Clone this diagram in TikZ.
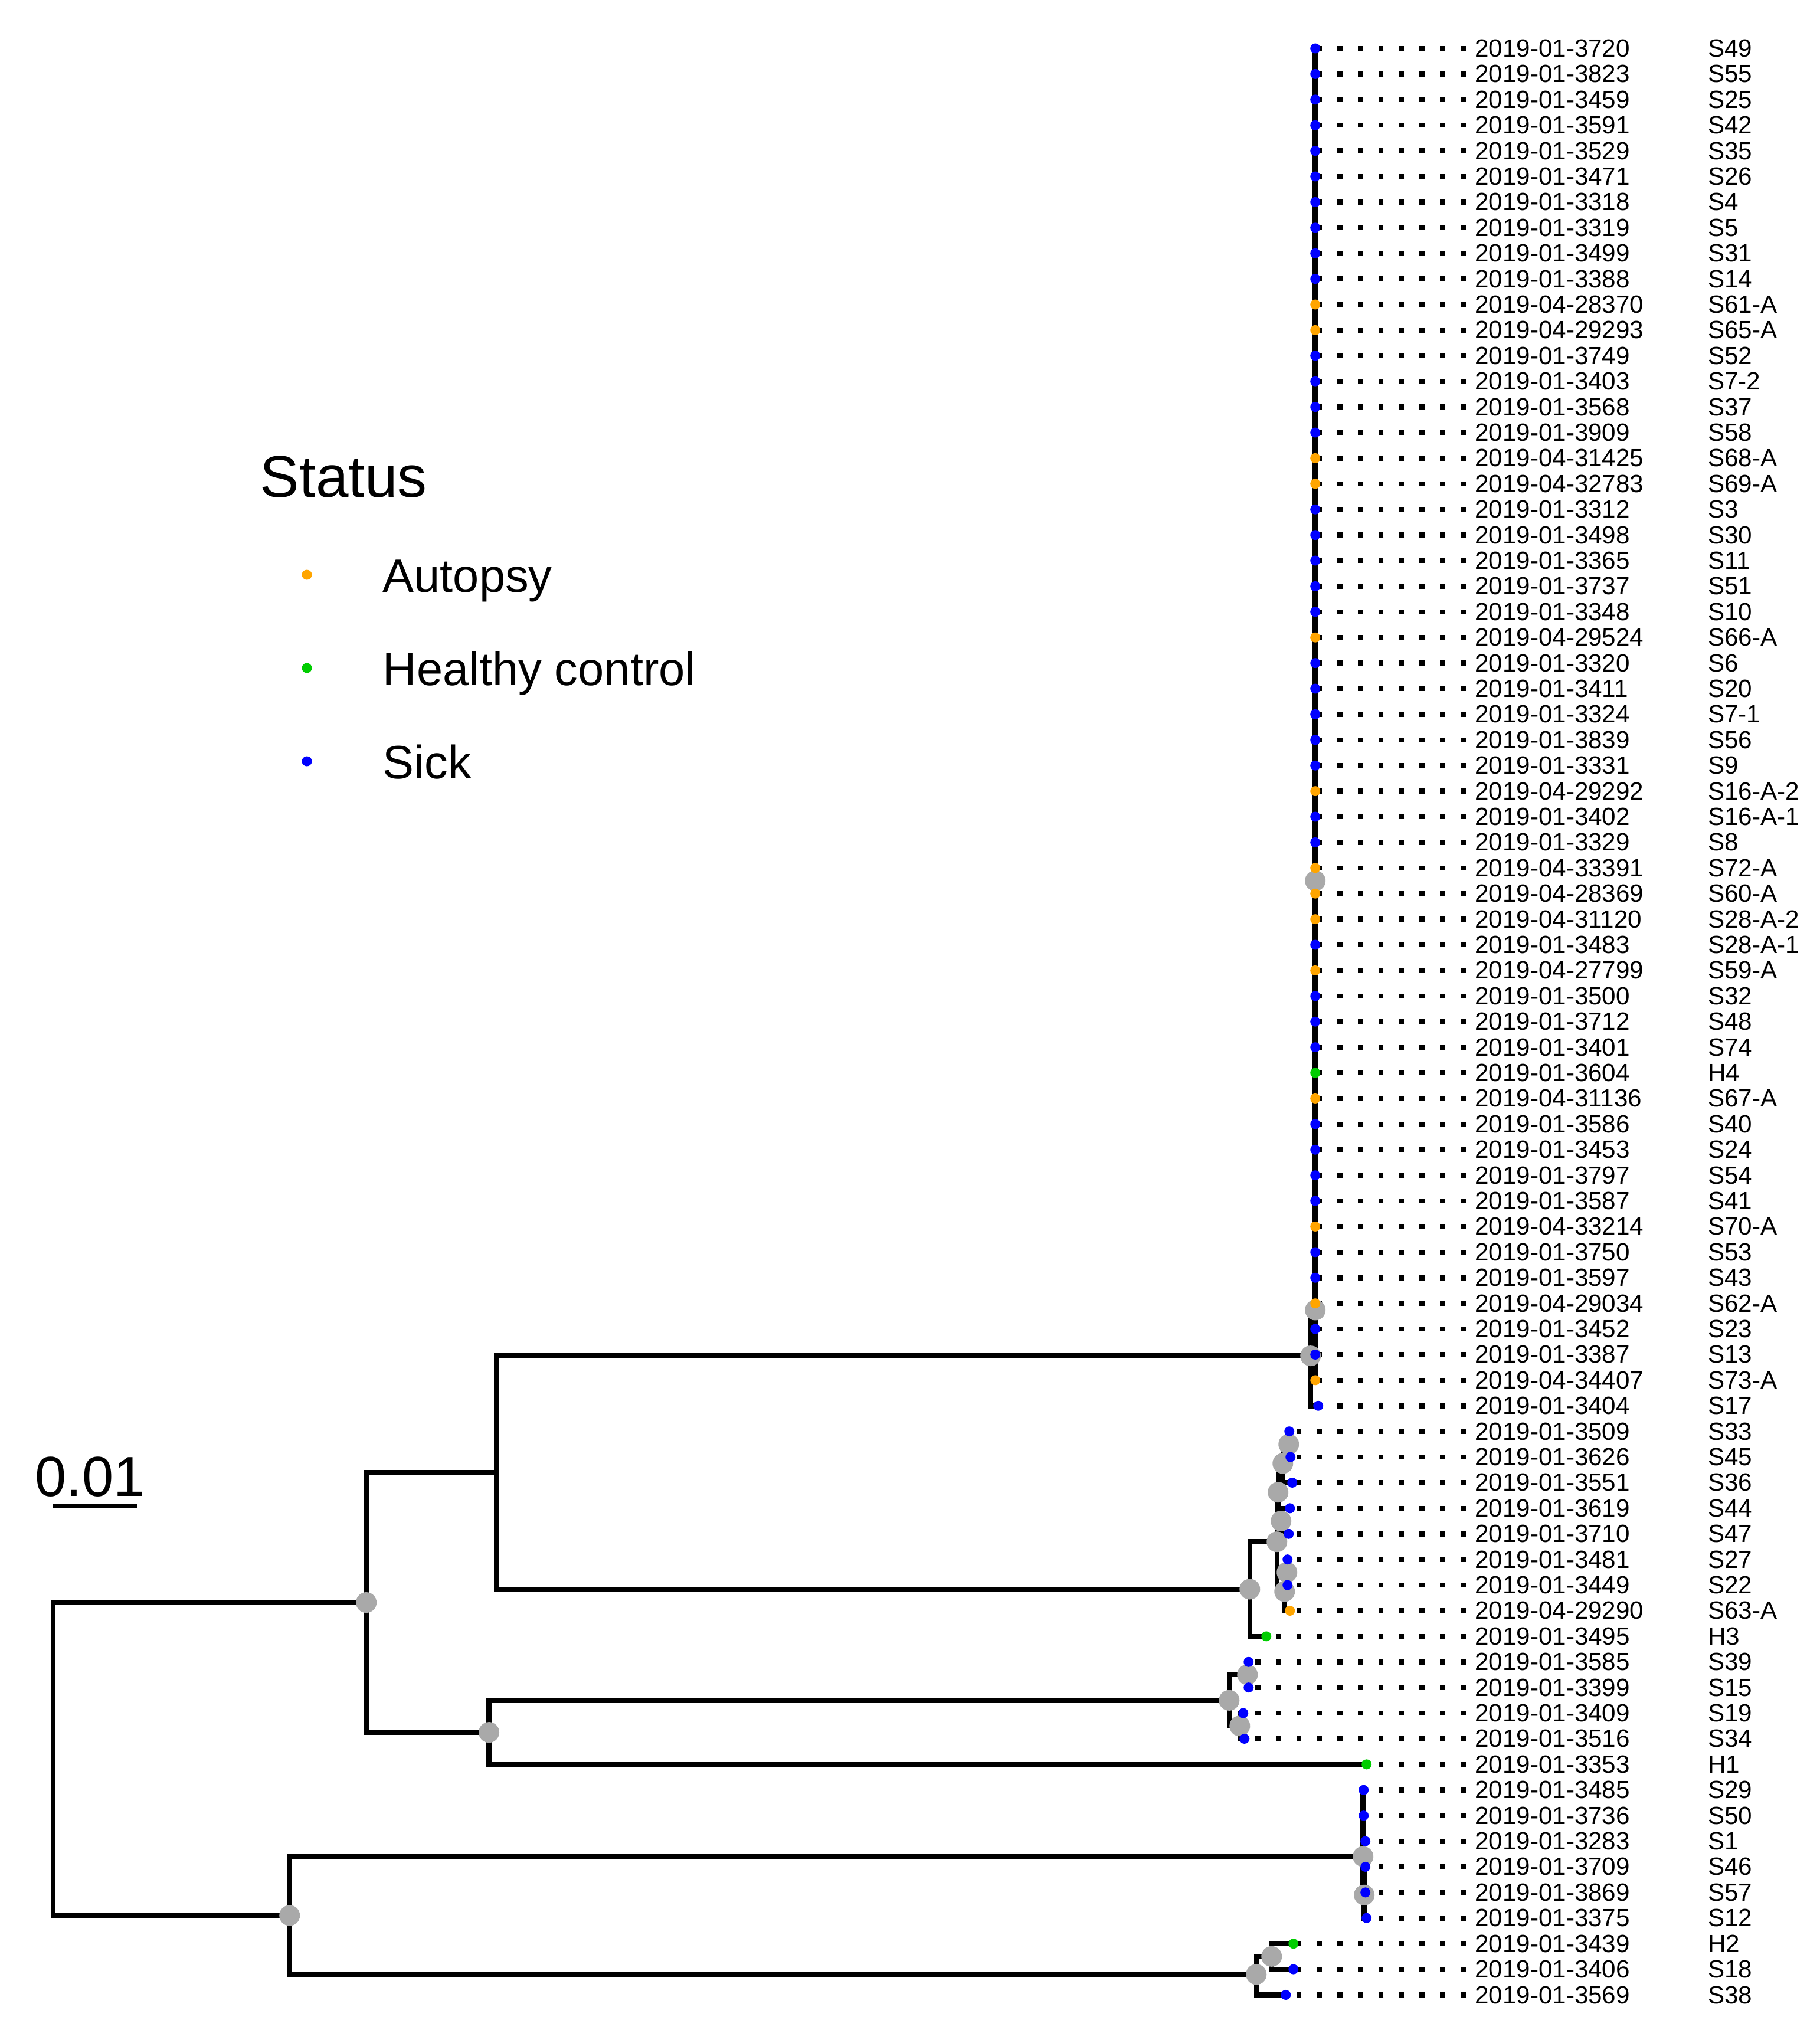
\documentclass[tikz,border=0pt]{standalone}
\usepackage{fontspec}
\setmainfont{Liberation Sans}
\definecolor{autopsyc}{RGB}{255,165,0}
\definecolor{healthyc}{RGB}{0,205,0}
\definecolor{sickc}{RGB}{0,0,255}
\definecolor{nodegrey}{RGB}{169,169,169}
\pgfdeclarelayer{edges}
\pgfdeclarelayer{inner}
\pgfsetlayers{edges,inner,main}
\begin{document}
\begin{tikzpicture}[
        % 樹枝:黑色粗線
        tree_edge/.style={
            draw=black,
            line width=0.085cm
        },
        % 對齊用的點線
        leader_line/.style={
            draw=black,
            line width=0.085cm,
            dash pattern=on 0.085cm off 0.263cm
        },
        % 內部節點:灰色圓點
        node_dot/.style={
            circle,
            fill=nodegrey,
            minimum size=0.35cm,
            inner sep=0pt,
            outer sep=0pt
        },
        % 末端節點
        tip_dot/.style={
            circle,
            minimum size=0.17cm,
            inner sep=0pt,
            outer sep=0pt
        },
        autopsy/.style={tip_dot, fill=autopsyc},
        healthy/.style={tip_dot, fill=healthyc},
        sick/.style={tip_dot, fill=sickc},
        % 標籤
        date_label/.style={
            anchor=west,
            inner xsep=0.15cm,
            inner ysep=0pt,
            font=\fontsize{12}{14}\selectfont
        },
        id_label/.style={
            anchor=west,
            inner sep=0pt,
            font=\fontsize{12}{14}\selectfont
        },
        legend_title/.style={anchor=base west, inner sep=0pt, font=\fontsize{28.4}{34}\selectfont},
        legend_text/.style={anchor=base west, inner sep=0pt, font=\fontsize{22.6}{27}\selectfont},
        scale_text/.style={anchor=base west, inner sep=0pt, font=\fontsize{27.2}{32}\selectfont}
    ]
    \useasboundingbox (0,0) rectangle (30.84,-34.40);

    % ==========================
    % 樹:x 以像素, y 以列
    % ==========================
    \begin{scope}[x=0.01cm, y=-0.434cm, yshift=-0.386cm]
        % 1. 末端點與標籤
        \foreach \r/\xx/\st/\dt/\sl in {
            1/2230/sick/2019-01-3720/S49, 2/2230/sick/2019-01-3823/S55,
            3/2230/sick/2019-01-3459/S25, 4/2230/sick/2019-01-3591/S42,
            5/2230/sick/2019-01-3529/S35, 6/2230/sick/2019-01-3471/S26,
            7/2230/sick/2019-01-3318/S4, 8/2230/sick/2019-01-3319/S5,
            9/2230/sick/2019-01-3499/S31, 10/2230/sick/2019-01-3388/S14,
            11/2230/autopsy/2019-04-28370/S61-A, 12/2230/autopsy/2019-04-29293/S65-A,
            13/2230/sick/2019-01-3749/S52, 14/2230/sick/2019-01-3403/S7-2,
            15/2230/sick/2019-01-3568/S37, 16/2230/sick/2019-01-3909/S58,
            17/2230/autopsy/2019-04-31425/S68-A, 18/2230/autopsy/2019-04-32783/S69-A,
            19/2230/sick/2019-01-3312/S3, 20/2230/sick/2019-01-3498/S30,
            21/2230/sick/2019-01-3365/S11, 22/2230/sick/2019-01-3737/S51,
            23/2230/sick/2019-01-3348/S10, 24/2230/autopsy/2019-04-29524/S66-A,
            25/2230/sick/2019-01-3320/S6, 26/2230/sick/2019-01-3411/S20,
            27/2230/sick/2019-01-3324/S7-1, 28/2230/sick/2019-01-3839/S56,
            29/2230/sick/2019-01-3331/S9, 30/2230/autopsy/2019-04-29292/S16-A-2,
            31/2230/sick/2019-01-3402/S16-A-1, 32/2230/sick/2019-01-3329/S8,
            33/2230/autopsy/2019-04-33391/S72-A, 34/2230/autopsy/2019-04-28369/S60-A,
            35/2230/autopsy/2019-04-31120/S28-A-2, 36/2230/sick/2019-01-3483/S28-A-1,
            37/2230/autopsy/2019-04-27799/S59-A, 38/2230/sick/2019-01-3500/S32,
            39/2230/sick/2019-01-3712/S48, 40/2230/sick/2019-01-3401/S74,
            41/2230/healthy/2019-01-3604/H4, 42/2230/autopsy/2019-04-31136/S67-A,
            43/2230/sick/2019-01-3586/S40, 44/2230/sick/2019-01-3453/S24,
            45/2230/sick/2019-01-3797/S54, 46/2230/sick/2019-01-3587/S41,
            47/2230/autopsy/2019-04-33214/S70-A, 48/2230/sick/2019-01-3750/S53,
            49/2230/sick/2019-01-3597/S43, 50/2230/autopsy/2019-04-29034/S62-A,
            51/2230/sick/2019-01-3452/S23, 52/2230/sick/2019-01-3387/S13,
            53/2230/autopsy/2019-04-34407/S73-A, 54/2235/sick/2019-01-3404/S17,
            55/2186/sick/2019-01-3509/S33, 56/2188/sick/2019-01-3626/S45,
            57/2191/sick/2019-01-3551/S36, 58/2187/sick/2019-01-3619/S44,
            59/2185/sick/2019-01-3710/S47, 60/2183/sick/2019-01-3481/S27,
            61/2183/sick/2019-01-3449/S22, 62/2187/autopsy/2019-04-29290/S63-A,
            63/2147/healthy/2019-01-3495/H3, 64/2117/sick/2019-01-3585/S39,
            65/2117/sick/2019-01-3399/S15, 66/2108/sick/2019-01-3409/S19,
            67/2110/sick/2019-01-3516/S34, 68/2317/healthy/2019-01-3353/H1,
            69/2312/sick/2019-01-3485/S29, 70/2312/sick/2019-01-3736/S50,
            71/2315/sick/2019-01-3283/S1, 72/2315/sick/2019-01-3709/S46,
            73/2315/sick/2019-01-3869/S57, 74/2317/sick/2019-01-3375/S12,
            75/2193/healthy/2019-01-3439/H2, 76/2193/sick/2019-01-3406/S18,
            77/2180/sick/2019-01-3569/S38} {
            \node[\st] (t\r) at (\xx,\r) {};
            \node[date_label] (d\r) at (2485,\r) {\dt};
            \node[id_label] (s\r) at (2895,\r) {\sl};
            \begin{pgfonlayer}{edges}
                \draw[leader_line] (d\r.west) -- (t\r.center);
            \end{pgfonlayer}
        }

        % 2. 內部節點
        \coordinate (root) at (90,67.8);
        \coordinate (b) at (842,56.6);
        \begin{pgfonlayer}{inner}
            \node[node_dot] (a) at (621,61.68) {};
            \node[node_dot] (topr) at (2222,52.05) {};
            \node[node_dot] (top) at (2230,50.26) {};
            \node[node_dot] (pair) at (2230,33.5) {};
            \node[node_dot] (k) at (2119,61.16) {};
            \node[node_dot] (c2) at (2165,59.31) {};
            \node[node_dot] (p1) at (2167,57.375) {};
            \node[node_dot] (p2) at (2175,56.25) {};
            \node[node_dot] (p3) at (2172,58.5) {};
            \node[node_dot] (p4) at (2185,55.5) {};
            \node[node_dot] (q1) at (2178,61.25) {};
            \node[node_dot] (q2) at (2182,60.5) {};
            \node[node_dot] (c) at (829,66.75) {};
            \node[node_dot] (d) at (2084,65.5) {};
            \node[node_dot] (d1) at (2115,64.5) {};
            \node[node_dot] (d2) at (2102,66.5) {};
            \node[node_dot] (e) at (491,73.9) {};
            \node[node_dot] (f) at (2311,71.6) {};
            \node[node_dot] (f2) at (2313,73.1) {};
            \node[node_dot] (g) at (2130,76.2) {};
            \node[node_dot] (g2) at (2156,75.5) {};
        \end{pgfonlayer}

        % 3. 樹枝 (直角)
        \begin{pgfonlayer}{edges}
            \foreach \u/\v in {root/a, root/e, a/b, a/c, b/topr, b/k,
                topr/top, topr/t54, top/pair, pair/t33, pair/t34,
                k/c2, k/t63, c2/p1, c2/q1, p1/p2, p1/p3, p2/p4, p2/t57,
                p4/t55, p4/t56, p3/t58, p3/t59, q1/q2, q1/t62, q2/t60, q2/t61,
                c/d, c/t68, d/d1, d/d2, d1/t64, d1/t65, d2/t66, d2/t67,
                e/f, e/g, f/t69, f/t70, f/t71, f/f2, f2/t72, f2/t73, f2/t74,
                g/g2, g/t77, g2/t75, g2/t76} {
                \draw[tree_edge] (\u.center) |- (\v.center);
            }
            \foreach \r in {1,...,32} {
                \draw[tree_edge] (top.center) |- (t\r.center);
            }
            \foreach \r in {35,...,53} {
                \draw[tree_edge] (top.center) |- (t\r.center);
            }
        \end{pgfonlayer}
    \end{scope}

    % ==========================
    % 圖例
    % ==========================
    \node[legend_title] (lg_title) at (4.40,-8.42) {Status};
    \node[autopsy] (lg_a) at (5.20,-9.74) {};
    \node[healthy] (lg_h) at (5.20,-11.32) {};
    \node[sick] (lg_s) at (5.20,-12.90) {};
    \node[legend_text] (lg_at) at (6.48,-10.03) {Autopsy};
    \node[legend_text] (lg_ht) at (6.48,-11.61) {Healthy control};
    \node[legend_text] (lg_st) at (6.48,-13.19) {Sick};

    % ==========================
    % 比例尺
    % ==========================
    \coordinate (sb_l) at (0.90,-25.52);
    \coordinate (sb_r) at (2.32,-25.52);
    \draw[tree_edge] (sb_l) -- (sb_r);
    \node[scale_text] (sb_txt) at (0.59,-25.35) {0.01};
\end{tikzpicture}
\end{document}
